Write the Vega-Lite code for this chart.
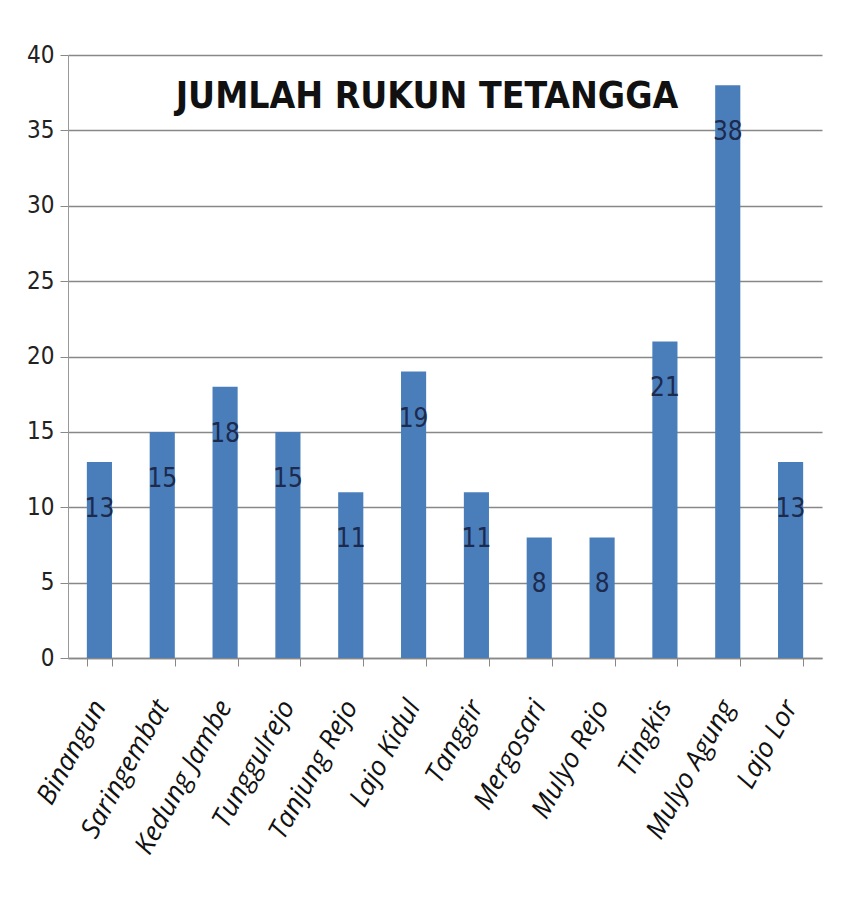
{
  "$schema": "https://vega.github.io/schema/vega-lite/v6.json",
  "autosize": {"type": "none"},
  "width": 754,
  "height": 603,
  "padding": {"left": 68, "top": 55, "right": 24, "bottom": 262},
  "background": "white",
  "title": {
    "text": "JUMLAH RUKUN TETANGGA",
    "anchor": "middle",
    "frame": "group",
    "orient": "top",
    "offset": -73,
    "dx": -18,
    "font": "DejaVu Sans Condensed, sans-serif",
    "fontSize": 37,
    "fontWeight": "bold",
    "color": "#111111"
  },
  "data": {
    "values": [
      {"desa": "Binangun", "rt": 13},
      {"desa": "Saringembat", "rt": 15},
      {"desa": "Kedung Jambe", "rt": 18},
      {"desa": "Tunggulrejo", "rt": 15},
      {"desa": "Tanjung Rejo", "rt": 11},
      {"desa": "Lajo Kidul", "rt": 19},
      {"desa": "Tanggir", "rt": 11},
      {"desa": "Mergosari", "rt": 8},
      {"desa": "Mulyo Rejo", "rt": 8},
      {"desa": "Tingkis", "rt": 21},
      {"desa": "Mulyo Agung", "rt": 38},
      {"desa": "Lajo Lor", "rt": 13}
    ]
  },
  "encoding": {
    "x": {
      "field": "desa",
      "type": "nominal",
      "sort": null,
      "scale": {"paddingInner": 0.6, "paddingOuter": 0.3},
      "axis": {
        "title": null,
        "labelAngle": -61,
        "labelAlign": "right",
        "labelBaseline": "middle",
        "labelFont": "Open Sans, DejaVu Sans, sans-serif",
        "labelFontStyle": "italic",
        "labelFontSize": 27,
        "labelColor": "#111111",
        "labelPadding": 36,
        "labelOverlap": false,
        "tickBand": "extent",
        "tickSize": 8,
        "tickColor": "#888888",
        "domainColor": "#888888",
        "domainWidth": 1.5
      }
    },
    "y": {
      "field": "rt",
      "type": "quantitative",
      "scale": {"domain": [0, 40]},
      "axis": {
        "title": null,
        "values": [0, 5, 10, 15, 20, 25, 30, 35, 40],
        "labelFont": "DejaVu Sans Condensed, sans-serif",
        "labelFontSize": 24,
        "labelColor": "#222222",
        "labelPadding": 6,
        "tickSize": 8,
        "tickColor": "#888888",
        "gridColor": "#888888",
        "gridWidth": 1.3,
        "domainColor": "#999999"
      }
    }
  },
  "layer": [
    {
      "mark": {"type": "bar", "color": "#4a7ebb"}
    },
    {
      "mark": {
        "type": "text",
        "baseline": "middle",
        "dy": 47,
        "font": "DejaVu Sans Condensed, sans-serif",
        "fontSize": 26,
        "color": "#1c2a4e"
      },
      "encoding": {"text": {"field": "rt", "type": "quantitative"}}
    }
  ],
  "config": {"view": {"stroke": null}}
}
